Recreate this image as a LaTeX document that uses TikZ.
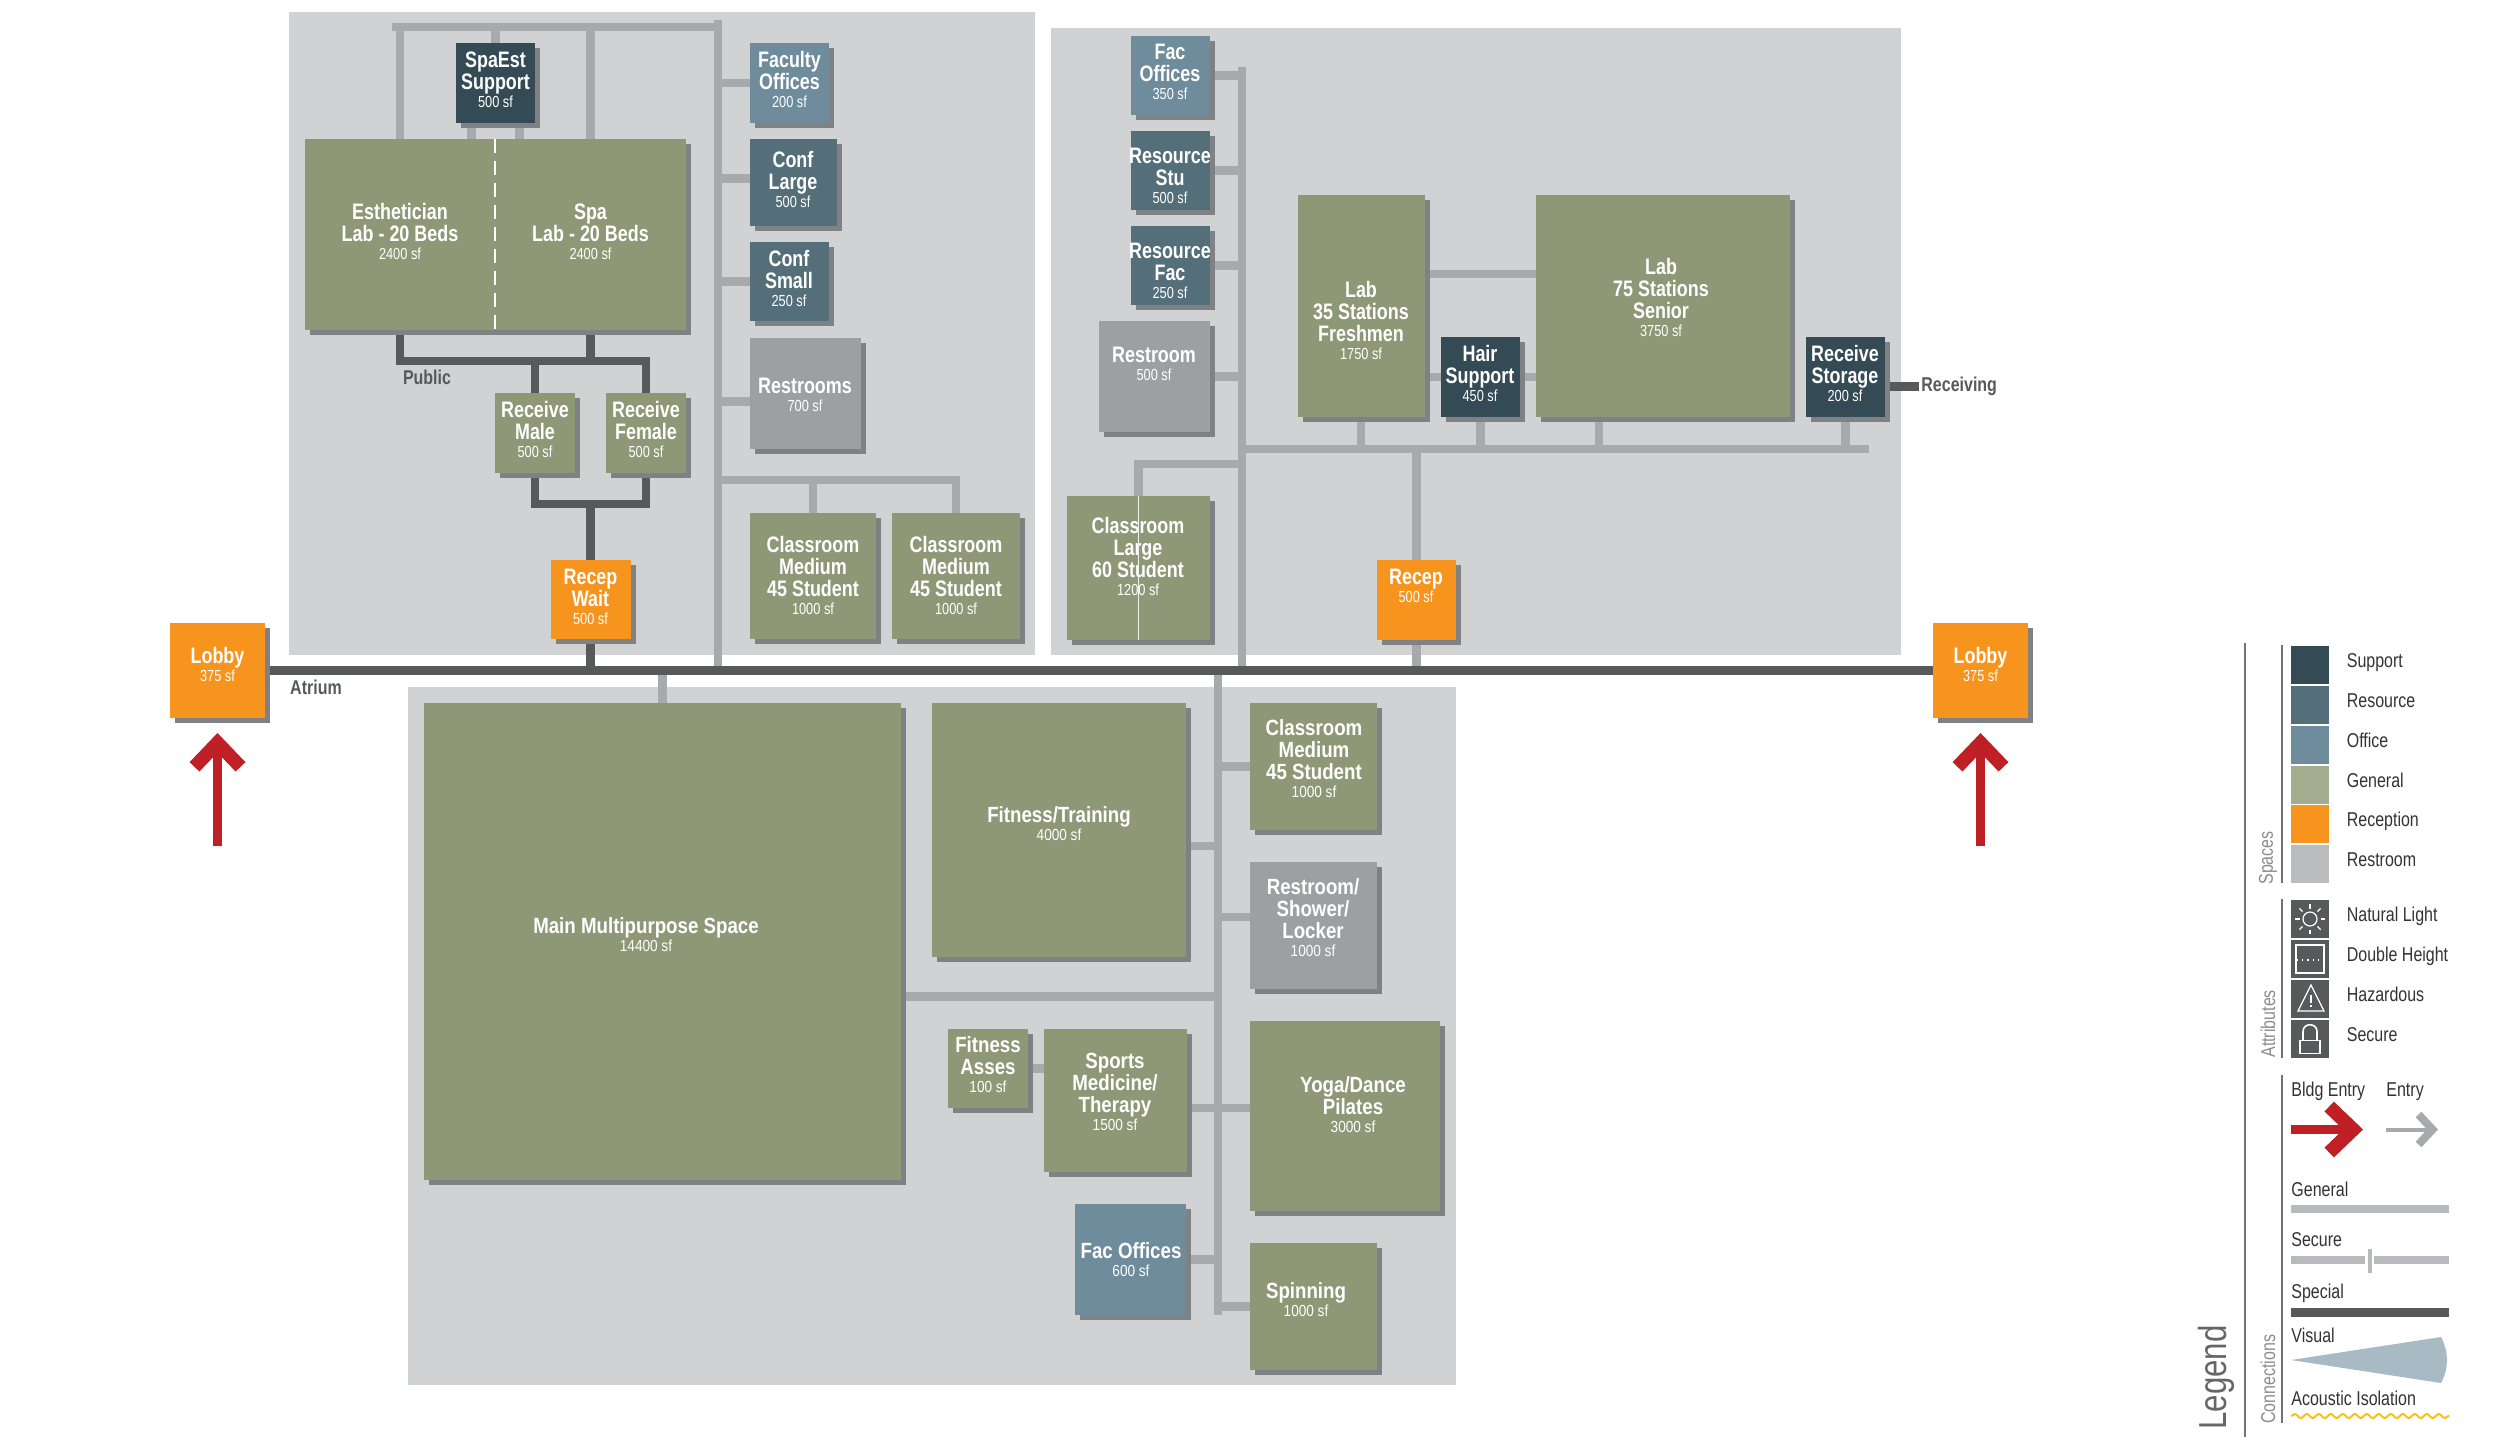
\documentclass[tikz,border=0pt]{standalone}
\usepackage{fontspec}
\setmainfont[FakeStretch=0.8]{Liberation Sans}
\newfontfamily\southfont[FakeStretch=0.85]{Liberation Sans}
\usetikzlibrary{arrows.meta,backgrounds,positioning,shadows,decorations.pathmorphing}

\definecolor{zonegrey}{HTML}{D1D2D4}
\definecolor{shadowgrey}{HTML}{808184}
\definecolor{supportcol}{HTML}{344A54}
\definecolor{resourcecol}{HTML}{546E7A}
\definecolor{officecol}{HTML}{6E8C9C}
\definecolor{generalcol}{HTML}{8F9876}
\definecolor{receptioncol}{HTML}{F7941E}
\definecolor{restcol}{HTML}{9E9FA2}
\definecolor{linegrey}{HTML}{A7A9AC}
\definecolor{linedark}{HTML}{58595B}
\definecolor{entryred}{HTML}{BE2026}
\newcommand{\arealine}{\\[-2.2pt]\fontsize{8}{8.5}\selectfont\mdseries}

\begin{document}
\begin{tikzpicture}[x=0.5pt, y=-0.5pt,
    boxsize/.style 2 args={minimum width=#1*0.5pt, minimum height=#2*0.5pt},
    zone/.style={rectangle, inner sep=0pt, fill=zonegrey},
    room/.style={rectangle, inner sep=0pt, general shadow={shadow xshift=2.5pt, shadow yshift=-2.5pt, fill=shadowgrey}},
    supportbox/.style={room, fill=supportcol},
    resourcebox/.style={room, fill=resourcecol},
    officebox/.style={room, fill=officecol},
    generalbox/.style={room, fill=generalcol},
    receptionbox/.style={room, fill=receptioncol},
    restbox/.style={room, fill=restcol},
    roomtext/.style={align=center, inner sep=0pt, yshift=0.7pt, text=white, font=\fontsize{11.2}{11}\selectfont\bfseries},
    southtext/.style={roomtext, font=\southfont\fontsize{11}{11}\selectfont\bfseries},
    genline/.style={draw=linegrey, line width=4.3pt},
    specline/.style={draw=linedark, line width=4.4pt},
    darklabel/.style={inner sep=1pt, text=linedark, font=\fontsize{10}{11}\selectfont\bfseries},
    swatch/.style={rectangle, inner sep=0pt, minimum size=19pt},
    legtext/.style={inner sep=0pt, anchor=west, text=black!80, text height=7pt, text depth=2pt, font=\fontsize{10}{11}\selectfont},
    swlabel/.style={legtext, yshift=1.2pt},
    legside/.style={inner sep=0pt, anchor=west, rotate=90, text=black!45, font=\fontsize{10}{11}\selectfont},
    legrule/.style={draw=black!55, line width=1pt},
    icon/.style={draw=white, line width=0.6pt},
    bldgarrow/.style={draw=entryred, line width=4.4pt, -{Straight Barb[length=12pt,width=23pt,line width=6.8pt]}}
    ]
\useasboundingbox (0,0) rectangle (2500,1441);

% rooms, west wing
\node [supportbox, boxsize={79}{80}] (spasupport) at (495.5,83) {};
\node [roomtext] (spasupport-t) at (495.5,81) {SpaEst\\Support\arealine 500 sf};
\node [generalbox, boxsize={190}{191}] (estlab) at (400,234.5) {};
\node [roomtext] (estlab-t) at (400,233) {Esthetician\\Lab - 20 Beds\arealine 2400 sf};
\node [generalbox, boxsize={191}{191}] (spalab) at (590.5,234.5) {};
\node [roomtext] (spalab-t) at (590.5,233) {Spa\\Lab - 20 Beds\arealine 2400 sf};
\node [officebox, boxsize={79}{80}] (faculty) at (789.5,83) {};
\node [roomtext] (faculty-t) at (789.5,81) {Faculty\\Offices\arealine 200 sf};
\node [resourcebox, boxsize={87}{87}] (conflarge) at (793.5,182.5) {};
\node [roomtext] (conflarge-t) at (793,181) {Conf\\Large\arealine 500 sf};
\node [resourcebox, boxsize={79}{79}] (confsmall) at (789.5,281.5) {};
\node [roomtext] (confsmall-t) at (789,280) {Conf\\Small\arealine 250 sf};
\node [restbox, boxsize={111}{111}] (restrooms) at (805.5,393.5) {};
\node [roomtext] (restrooms-t) at (805,396) {Restrooms\arealine 700 sf};
\node [generalbox, boxsize={126}{126}] (clsmedw) at (813,576) {};
\node [roomtext] (clsmedw-t) at (813,577) {Classroom\\Medium\\45 Student\arealine 1000 sf};
\node [generalbox, boxsize={128}{126}] (clsmede) at (956,576) {};
\node [roomtext] (clsmede-t) at (956,577) {Classroom\\Medium\\45 Student\arealine 1000 sf};
\node [generalbox, boxsize={80}{80}] (recvmale) at (535,433) {};
\node [roomtext] (recvmale-t) at (535,431) {Receive\\Male\arealine 500 sf};
\node [generalbox, boxsize={80}{80}] (recvfemale) at (646,433) {};
\node [roomtext] (recvfemale-t) at (646,431) {Receive\\Female\arealine 500 sf};
\node [receptionbox, boxsize={80}{79}] (recepwait) at (590.5,599.5) {};
\node [roomtext] (recepwait-t) at (590.5,598) {Recep\\Wait\arealine 500 sf};

% lobbies
\node [receptionbox, boxsize={95}{95}] (lobbyw) at (217.5,670.5) {};
\node [roomtext] (lobbyw-t) at (217.5,666) {Lobby\arealine 375 sf};
\node [receptionbox, boxsize={95}{95}] (lobbye) at (1980.5,670.5) {};
\node [roomtext] (lobbye-t) at (1980.5,666) {Lobby\arealine 375 sf};

% rooms, east wing
\node [officebox, boxsize={79}{79}] (facnorth) at (1170.5,75.5) {};
\node [roomtext] (facnorth-t) at (1170,73) {Fac\\Offices\arealine 350 sf};
\node [resourcebox, boxsize={79}{79}] (resstu) at (1170.5,170.5) {};
\node [roomtext] (resstu-t) at (1170,177) {Resource\\Stu\arealine 500 sf};
\node [resourcebox, boxsize={79}{79}] (resfac) at (1170.5,265.5) {};
\node [roomtext] (resfac-t) at (1170,272) {Resource\\Fac\arealine 250 sf};
\node [restbox, boxsize={111}{111}] (restroomn) at (1154.5,376.5) {};
\node [roomtext] (restroomn-t) at (1154,365) {Restroom\arealine 500 sf};
\node [generalbox, boxsize={143}{144}] (clslarge) at (1138.5,568) {};
\node [roomtext] (clslarge-t) at (1138,558) {Classroom\\Large\\60 Student\arealine 1200 sf};
\node [generalbox, boxsize={127}{222}] (labfresh) at (1361,306) {};
\node [roomtext] (labfresh-t) at (1361,322) {Lab\\35 Stations\\Freshmen\arealine 1750 sf};
\node [generalbox, boxsize={254}{222}] (labsenior) at (1663,306) {};
\node [roomtext] (labsenior-t) at (1661,299) {Lab\\75 Stations\\Senior\arealine 3750 sf};
\node [supportbox, boxsize={79}{80}] (hair) at (1480.5,377) {};
\node [roomtext] (hair-t) at (1480,375) {Hair\\Support\arealine 450 sf};
\node [supportbox, boxsize={79}{80}] (recvstorage) at (1845.5,377) {};
\node [roomtext] (recvstorage-t) at (1845,375) {Receive\\Storage\arealine 200 sf};
\node [receptionbox, boxsize={79}{80}] (recep) at (1416.5,600) {};
\node [roomtext] (recep-t) at (1416,587) {Recep\arealine 500 sf};
\draw [draw=white!85!generalcol, line width=0.5pt] (clslarge.north) -- (clslarge.south);

% rooms, south wing
\node [generalbox, boxsize={477}{477}] (mainhall) at (662.5,941.5) {};
\node [southtext] (mainhall-t) at (646,936) {Main Multipurpose Space\arealine 14400 sf};
\node [generalbox, boxsize={254}{254}] (fittrain) at (1059,830) {};
\node [southtext] (fittrain-t) at (1059,825) {Fitness/Training\arealine 4000 sf};
\node [generalbox, boxsize={127}{127}] (clsmeds) at (1313.5,766.5) {};
\node [southtext] (clsmeds-t) at (1314,760) {Classroom\\Medium\\45 Student\arealine 1000 sf};
\node [restbox, boxsize={127}{127}] (restshower) at (1313.5,925) {};
\node [southtext] (restshower-t) at (1313,919) {Restroom/\\Shower/\\Locker\arealine 1000 sf};
\node [generalbox, boxsize={190}{190}] (yoga) at (1345,1116) {};
\node [southtext] (yoga-t) at (1353,1106) {Yoga/Dance\\Pilates\arealine 3000 sf};
\node [generalbox, boxsize={127}{127}] (spinning) at (1313.5,1306.5) {};
\node [southtext] (spinning-t) at (1306,1301) {Spinning\arealine 1000 sf};
\node [generalbox, boxsize={80}{79}] (fitasses) at (988,1068.5) {};
\node [southtext] (fitasses-t) at (988,1066) {Fitness\\Asses\arealine 100 sf};
\node [generalbox, boxsize={143}{143}] (sports) at (1115,1100) {};
\node [southtext] (sports-t) at (1115,1093) {Sports\\Medicine/\\Therapy\arealine 1500 sf};
\node [officebox, boxsize={111}{111}] (facsouth) at (1130.5,1259.5) {};
\node [southtext] (facsouth-t) at (1131,1261) {Fac Offices\arealine 600 sf};

% labels on the connectors
\node [darklabel] (public) at (427,377.5) {Public};
\node [darklabel] (atrium) at (316,687) {Atrium};
\node [darklabel, anchor=west] (receiving) at (1919,386.5) {Receiving};

\begin{scope}[on background layer]
\node [zone, boxsize={746}{643}] (zonewest) at (662,333.5) {};
\node [zone, boxsize={850}{627}] (zoneeast) at (1476,341.5) {};
\node [zone, boxsize={1048}{698}] (zonesouth) at (932,1036) {};

% west wing connectors
\coordinate (spwest) at (718,20);
\coordinate (sptop) at (392,27);
\coordinate (busclass) at (956,480);
\draw [genline] (spwest) -- (spwest |- lobbyw);
\draw [genline] (sptop) -- (sptop -| spwest);
\draw [genline] (estlab) -- (estlab |- sptop);
\draw [genline] (spalab) -- (spalab |- sptop);
\draw [genline] (spasupport) -- (spasupport |- sptop);
\draw [genline] ([xshift=-12pt]spasupport.south) -- ([xshift=-12pt]spasupport.south |- estlab.north);
\draw [genline] ([xshift=12pt]spasupport.south) -- ([xshift=12pt]spasupport.south |- spalab.north);
\draw [genline] (faculty) -- (faculty -| spwest);
\draw [genline] ([yshift=2pt]conflarge.center) -- ([yshift=2pt]conflarge.center -| spwest);
\draw [genline] (confsmall) -- (confsmall -| spwest);
\draw [genline] ([yshift=-4pt]restrooms.center) -- ([yshift=-4pt]restrooms.center -| spwest);
\draw [genline] (clsmede) |- (busclass -| spwest);
\draw [genline] (clsmedw) -- (clsmedw |- busclass);
\coordinate (buspublic) at (590.5,361);
\coordinate (buswait) at (590.5,504);
\draw [specline] (estlab) |- (buspublic) -| (recvfemale);
\draw [specline] (spalab) -- (buspublic);
\draw [specline] (recvmale) -- (recvmale |- buspublic);
\draw [specline] (recvmale) |- (buswait) -| (recvfemale);
\draw [specline] (buswait) -- (recepwait);
\draw [specline] (recepwait) -- (recepwait |- lobbyw);

% east wing connectors
\coordinate (spnorth) at (1242,67);
\coordinate (busnorth) at (1869,449);
\coordinate (bendnorth) at (1242,464);
\draw [genline] (spnorth) -- (spnorth |- lobbyw);
\draw [genline] (facnorth) -- (facnorth -| spnorth);
\draw [genline] (resstu) -- (resstu -| spnorth);
\draw [genline] (resfac) -- (resfac -| spnorth);
\draw [genline] (restroomn) -- (restroomn -| spnorth);
\draw [genline] (bendnorth) -| (clslarge);
\draw [genline] (busnorth) -- (busnorth -| spnorth);
\draw [genline] (labfresh) -- (labfresh |- busnorth);
\draw [genline] (hair) -- (hair |- busnorth);
\draw [genline] ([xshift=-32pt]labsenior.center) -- ([xshift=-32pt]labsenior.center |- busnorth);
\draw [genline] (recvstorage) -- (recvstorage |- busnorth);
\draw [genline] ([yshift=16pt]labfresh.center) -- ([yshift=16pt]labsenior.center);
\draw [genline] (hair -| labfresh) -- (hair -| labsenior);
\draw [genline] (recep) -- (recep |- busnorth);
\draw [genline] (recep) -- (recep |- lobbyw);
\draw [specline] (recvstorage |- receiving) -- (receiving.west);

% south wing connectors
\coordinate (spsouth) at (1218,1314.5);
\draw [genline] (spsouth) -- (spsouth |- lobbyw);
\draw [genline] (mainhall) -- (mainhall |- lobbyw);
\draw [genline] ([yshift=-27.5pt]mainhall.center) -- ([yshift=-27.5pt]mainhall.center -| spsouth);
\draw [genline] ([yshift=-8pt]fittrain.center) -- ([yshift=-8pt]fittrain.center -| spsouth);
\draw [genline] (clsmeds) -- (clsmeds -| spsouth);
\draw [genline] ([yshift=4pt]restshower.center) -- ([yshift=4pt]restshower.center -| spsouth);
\draw [genline] ([yshift=-4pt]sports.center) -- ([yshift=-4pt]sports.center -| yoga);
\draw [genline] (fitasses) -- (fitasses -| sports);
\draw [genline] (facsouth) -- (facsouth -| spsouth);
\draw [genline] (spinning) -- (spinning -| spsouth);

% atrium
\draw [specline] (lobbyw) -- (lobbye);
\end{scope}

% dashed divider between the two labs
\draw [draw=white, line width=1pt, dash pattern=on 7pt off 4pt] (estlab.north east) -- (estlab.south east);

% building entries
\coordinate (entryw) at (217.5,846);
\coordinate (entrye) at (1980.5,846);
\coordinate (tipw) at (217.5,733);
\coordinate (tipe) at (1980.5,733);
\draw [bldgarrow] (entryw) -- (tipw);
\draw [bldgarrow] (entrye) -- (tipe);

% legend
\draw [legrule] (2245,643) -- (2245,1437);
\draw [legrule] (2282,645) -- (2282,883);
\draw [legrule] (2282,899) -- (2282,1058);
\draw [legrule] (2282,1075) -- (2282,1423);
\node [legside, font=\fontsize{19.5}{22}\selectfont, text=black!60] (legendtitle) at (2216,1430) {Legend};
\node [legside] (legspaces) at (2268,885) {Spaces};
\node [legside] (legattr) at (2268,1058) {Attributes};
\node [legside] (legconn) at (2268,1424) {Connections};

\node [swatch, fill=supportcol] (swsupport) at (2310,665) {};
\node [swlabel, right=8.5pt of swsupport] (txsupport) {Support};
\node [swatch, fill=resourcecol] (swresource) at (2310,705) {};
\node [swlabel, right=8.5pt of swresource] (txresource) {Resource};
\node [swatch, fill=officecol] (swoffice) at (2310,745) {};
\node [swlabel, right=8.5pt of swoffice] (txoffice) {Office};
\node [swatch, fill=generalcol!80!white] (swgeneral) at (2310,784.5) {};
\node [swlabel, right=8.5pt of swgeneral] (txgeneral) {General};
\node [swatch, fill=receptioncol] (swreception) at (2310,824) {};
\node [swlabel, right=8.5pt of swreception] (txreception) {Reception};
\node [swatch, fill=restcol!70!white] (swrest) at (2310,864) {};
\node [swlabel, right=8.5pt of swrest] (txrest) {Restroom};
\node [swatch, fill=linedark] (swlight) at (2310,919) {};
\node [swlabel, right=8.5pt of swlight] (txlight) {Natural Light};
\node [swatch, fill=linedark] (swdouble) at (2310,959) {};
\node [swlabel, right=8.5pt of swdouble] (txdouble) {Double Height};
\node [swatch, fill=linedark] (swhazard) at (2310,999) {};
\node [swlabel, right=8.5pt of swhazard] (txhazard) {Hazardous};
\node [swatch, fill=linedark] (swsecure) at (2310,1038.5) {};
\node [swlabel, right=8.5pt of swsecure] (txsecure) {Secure};

% attribute icons
\begin{scope}[shift=(swlight)]
\draw [icon] (0,0) circle (3.5pt);
\foreach \ang in {0,45,...,315} \draw [icon] (\ang:10.5) -- (\ang:15);
\end{scope}
\begin{scope}[shift=(swdouble)]
\draw [icon, line width=0.9pt] (-14,-14) rectangle (14,14);
\draw [icon, dotted] (-13,1) -- (13,1);
\end{scope}
\begin{scope}[shift=(swhazard)]
\draw [icon] (1,-14) -- (14,12) -- (-12,12) -- cycle;
\draw [icon, line width=0.9pt] (1,-4) -- (1,4);
\draw [icon, line width=0.9pt] (1,6) -- (1,8);
\end{scope}
\begin{scope}[shift=(swsecure)]
\draw [icon, line width=0.8pt] (-10,2) rectangle (10,15);
\draw [icon, line width=0.8pt] (-7,2) -- (-7,-7) .. controls (-7,-16) and (7,-16) .. (7,-7) -- (7,2);
\end{scope}

% connection key
\node [legtext] (txbldg) at (2291,1091) {Bldg Entry};
\node [legtext] (txentry) at (2386,1091) {Entry};
\draw [bldgarrow, draw=entryred] (2291,1129.5) -- (2363,1129.5);
\draw [draw=linegrey, line width=2pt, -{Straight Barb[length=7pt,width=15pt,line width=4pt]}] (2386,1129.5) -- (2438,1129.5);
\node [legtext] (txgenline) at (2291,1191) {General};
\fill [linegrey!80!white] (2291,1205) rectangle (2449,1213);
\node [legtext] (txsecline) at (2291,1241) {Secure};
\fill [linegrey!80!white] (2291,1256) rectangle (2365,1264);
\fill [linegrey!80!white] (2374,1256) rectangle (2449,1264);
\fill [linegrey!80!white] (2368,1249) rectangle (2372,1273);
\node [legtext] (txspecline) at (2291,1293) {Special};
\fill [linedark] (2291,1308) rectangle (2449,1317);
\node [legtext] (txvisual) at (2291,1337) {Visual};
\fill [officecol!60!white] (2291,1360) -- (2441,1337) .. controls (2449,1352) and (2449,1368) .. (2441,1383) -- cycle;
\node [legtext] (txacoustic) at (2291,1400) {Acoustic Isolation};
\draw [draw=receptioncol!60!yellow, line width=1pt, decorate, decoration={snake, amplitude=1pt, segment length=6pt}] (2291,1416) -- (2449,1416);
\end{tikzpicture}
\end{document}
